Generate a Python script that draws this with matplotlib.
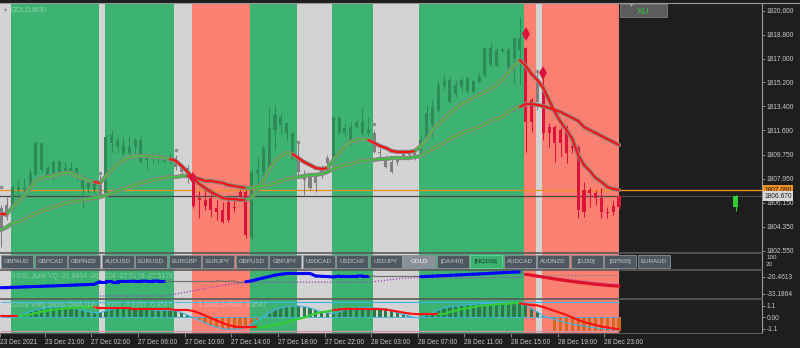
import matplotlib
matplotlib.use("Agg")
import matplotlib.pyplot as plt
from matplotlib.collections import LineCollection
from matplotlib.patches import Rectangle
import numpy as np

plt.rcParams['font.family'] = ['Liberation Sans', 'DejaVu Sans']

nan = float("nan")

# GOLD, M30 bars (23 Dec 2021 .. 28 Dec 23:30)
opens = [1804.1, 1805.1, 1805.85, 1807.35, 1807.1, 1807.35, 1808.25, 1810.65, 1808.75, 1808.4,
         1809.2, 1808.5, 1808.75, 1808.5, 1807.85, 1807.25, 1807.6, 1806.75, 1806.9, 1811.25,
         1810.35, 1810.5, 1809.9, 1810.35, 1810.9, 1809.4, 1809.6, 1809.45, 1809.6, 1809.4,
         1809.55, 1808.85, 1808.75, 1808.1, 1806.35, 1806.35, 1805.6, 1805.75, 1805.6, 1804.85,
         1805.85, 1806.6, 1806.95, 1803.6, 1808.4, 1808.45, 1808.6, 1811.6, 1812.6, 1812.15,
         1811.4, 1809.6, 1808.25, 1808.1, 1807.65, 1808.4, 1809.15, 1809.6, 1812.5, 1811.4,
         1811.85, 1811.85, 1812.25, 1811.4, 1811.4, 1809.95, 1809.35, 1808.45, 1809.2, 1809.6,
         1809.75, 1809.75, 1810.1, 1811.0, 1812.0, 1813.15, 1814.95, 1815.4, 1814.3, 1814.85,
         1815.45, 1814.5, 1815.25, 1815.75, 1817.8, 1816.45, 1817.6, 1817.65, 1817.05, 1817.65,
         1817.8, 1812.2, 1813.75, 1814.65, 1811.4, 1811.85, 1810.65, 1811.6, 1810.3, 1810.35,
         1805.45, 1807.1, 1806.9, 1806.5, 1805.45, 1805.45, 1805.85]
highs = [1806.0, 1806.6, 1807.5, 1807.85, 1808.0, 1808.75, 1810.8, 1810.75, 1809.0, 1809.35,
         1809.35, 1809.25, 1809.25, 1808.85, 1808.1, 1807.85, 1807.75, 1808.25, 1811.25, 1811.65,
         1811.1, 1811.1, 1811.1, 1811.0, 1811.1, 1809.6, 1809.75, 1809.9, 1809.75, 1809.9,
         1809.75, 1809.0, 1809.0, 1808.25, 1807.05, 1807.1, 1807.25, 1806.35, 1806.2, 1806.35,
         1806.35, 1807.1, 1807.25, 1808.6, 1809.6, 1810.5, 1813.35, 1813.5, 1812.9, 1812.25,
         1811.5, 1810.75, 1808.6, 1808.4, 1808.25, 1809.0, 1809.75, 1812.7, 1812.7, 1812.05,
         1812.25, 1812.4, 1813.3, 1812.55, 1811.65, 1810.3, 1809.75, 1809.52, 1809.6, 1810.1,
         1810.1, 1810.3, 1811.25, 1813.5, 1813.9, 1815.4, 1815.75, 1815.6, 1815.4, 1815.6,
         1815.7, 1815.4, 1815.9, 1817.85, 1818.25, 1817.85, 1817.85, 1817.85, 1818.6, 1820.1,
         1817.85, 1814.05, 1816.15, 1815.6, 1812.15, 1812.0, 1811.85, 1812.0, 1810.75, 1810.5,
         1807.7, 1807.35, 1807.1, 1807.25, 1805.85, 1806.35, 1806.75]
lows = [1802.8, 1804.85, 1805.75, 1806.35, 1807.0, 1807.1, 1808.15, 1808.45, 1808.1, 1807.85,
        1808.4, 1808.4, 1808.4, 1807.85, 1805.75, 1806.9, 1806.9, 1806.6, 1806.75, 1810.0,
        1809.9, 1809.75, 1809.75, 1809.6, 1809.15, 1808.6, 1809.15, 1809.15, 1809.15, 1809.15,
        1808.6, 1808.1, 1807.65, 1805.8, 1805.0, 1805.6, 1805.1, 1804.85, 1804.6, 1804.7,
        1805.45, 1806.35, 1803.5, 1803.35, 1807.1, 1807.65, 1808.45, 1810.15, 1811.35, 1810.85,
        1809.35, 1808.1, 1806.75, 1807.1, 1807.0, 1808.0, 1808.85, 1809.5, 1811.35, 1811.1,
        1810.5, 1811.8, 1811.25, 1811.25, 1809.9, 1809.5, 1808.75, 1808.4, 1809.0, 1809.52,
        1809.6, 1809.4, 1809.75, 1810.9, 1811.1, 1813.0, 1814.65, 1813.65, 1814.1, 1814.5,
        1814.4, 1814.4, 1815.15, 1815.6, 1816.35, 1816.35, 1817.5, 1816.15, 1815.15, 1815.0,
        1810.0, 1811.5, 1813.15, 1810.9, 1810.35, 1809.2, 1809.6, 1809.15, 1809.9, 1805.0,
        1805.05, 1805.85, 1806.0, 1805.0, 1805.0, 1805.2, 1805.7]
closes = [1805.8, 1806.0, 1807.35, 1807.1, 1807.3, 1808.4, 1810.65, 1808.6, 1808.25, 1809.2,
          1808.5, 1808.75, 1808.6, 1808.75, 1807.25, 1807.7, 1807.1, 1807.5, 1811.1, 1810.65,
          1810.9, 1809.9, 1810.35, 1810.9, 1809.2, 1809.55, 1809.45, 1809.6, 1809.3, 1809.55,
          1808.85, 1808.45, 1808.1, 1805.95, 1806.5, 1805.95, 1806.5, 1805.45, 1804.7, 1806.2,
          1805.75, 1806.95, 1803.7, 1808.45, 1808.6, 1810.3, 1811.8, 1812.75, 1812.0, 1811.4,
          1809.95, 1808.45, 1807.85, 1807.25, 1808.1, 1808.85, 1809.55, 1812.6, 1811.45, 1811.8,
          1810.65, 1812.25, 1811.4, 1811.65, 1809.95, 1809.9, 1808.85, 1809.2, 1809.35, 1809.95,
          1809.95, 1810.1, 1810.9, 1812.9, 1813.35, 1815.0, 1815.3, 1813.75, 1815.0, 1815.4,
          1814.5, 1815.3, 1815.6, 1817.8, 1816.5, 1817.65, 1817.7, 1816.35, 1818.55, 1818.55,
          1812.2, 1813.9, 1815.25, 1811.4, 1811.85, 1810.65, 1811.6, 1809.9, 1810.45, 1805.6,
          1807.1, 1806.9, 1806.5, 1805.45, 1805.35, 1805.95, 1806.67]

# trend zones behind the chart: (state, number of bars)
zone_runs = [("gray", 2), ("green", 15), ("gray", 1), ("green", 12), ("gray", 3), ("red", 10),
             ("green", 8), ("gray", 6), ("green", 7), ("gray", 8), ("green", 18), ("red", 2),
             ("gray", 1), ("red", 14)]

# two smoothed averages on price
ma_fast = [1805.31, 1805.31, 1805.84, 1806.29, 1806.67, 1807.27, 1807.80, 1808.02, 1808.10, 1808.17,
           1808.32, 1808.40, 1808.40, 1808.17, 1808.02, 1807.80, 1807.72, 1807.65, 1808.17, 1808.62,
           1809.07, 1809.37, 1809.60, 1809.67, 1809.67, 1809.67, 1809.60, 1809.60, 1809.52, 1809.45,
           1809.30, 1808.92, 1808.47, 1808.02, 1807.57, 1807.27, 1806.97, 1806.74, 1806.52, 1806.44,
           1806.44, 1806.37, 1806.37, 1806.52, 1807.12, 1807.87, 1808.62, 1809.30, 1809.67, 1809.90,
           1809.83, 1809.52, 1809.22, 1809.00, 1808.77, 1808.70, 1808.77, 1809.37, 1809.90, 1810.43,
           1810.73, 1810.88, 1810.95, 1810.88, 1810.65, 1810.43, 1810.28, 1810.05, 1809.98, 1809.98,
           1809.98, 1810.05, 1810.43, 1810.88, 1811.63, 1812.08, 1812.46, 1812.91, 1813.28, 1813.58,
           1813.81, 1814.04, 1814.26, 1814.49, 1814.71, 1815.01, 1815.39, 1815.92, 1816.44, 1816.89,
           1816.44, 1815.84, 1815.39, 1814.79, 1813.89, 1812.98, 1812.23, 1811.63, 1810.95, 1809.75,
           1809.00, 1808.55, 1808.02, 1807.72, 1807.35, 1807.20, 1807.12]
ma_slow = [1804.11, 1804.33, 1804.63, 1804.71, 1804.93, 1805.16, 1805.38, 1805.54, 1805.69, 1805.84,
           1805.99, 1806.14, 1806.22, 1806.29, 1806.37, 1806.44, 1806.52, 1806.59, 1806.74, 1806.89,
           1807.04, 1807.19, 1807.34, 1807.49, 1807.65, 1807.72, 1807.87, 1807.95, 1808.02, 1808.10,
           1808.10, 1808.17, 1808.17, 1808.10, 1807.95, 1807.80, 1807.80, 1807.72, 1807.65, 1807.49,
           1807.42, 1807.34, 1807.27, 1807.27, 1807.34, 1807.42, 1807.49, 1807.65, 1807.80, 1807.95,
           1808.02, 1808.10, 1808.17, 1808.25, 1808.25, 1808.32, 1808.47, 1808.70, 1808.85, 1809.00,
           1809.07, 1809.22, 1809.30, 1809.37, 1809.37, 1809.45, 1809.45, 1809.52, 1809.52, 1809.52,
           1809.52, 1809.60, 1809.67, 1809.97, 1810.20, 1810.43, 1810.65, 1810.95, 1811.18, 1811.40,
           1811.55, 1811.70, 1811.85, 1812.08, 1812.31, 1812.46, 1812.61, 1812.98, 1813.21, 1813.36,
           1813.58, 1813.58, 1813.51, 1813.43, 1813.28, 1813.13, 1812.98, 1812.76, 1812.53, 1812.31,
           1811.85, 1811.63, 1811.40, 1811.18, 1810.95, 1810.73, 1810.50]
fast_down = [(0, 1), (16, 17), (29, 42), (50, 56), (63, 71), (89, 106)]
slow_down = [(32, 42), (89, 106)]

sell_x = [90, 93]
sell_y = [1818.85, 1815.9]
flip_x = [33]
flip_y = [1808.0]
dot_x = [0, 17, 30, 51, 64, 92]
dot_y = [1807.37, 1808.4, 1810.13, 1810.73, 1812.08, 1816.07]
ghost_x = 126
ghost_ohlc = (1806.67, 1806.75, 1805.56, 1805.84)
ask_price = 1807.09
bid_price = 1806.67
price_ticks = [1820.6, 1818.8, 1817.0, 1815.2, 1813.4, 1811.6, 1809.75, 1807.95, 1806.15, 1804.35, 1802.55]

# DSL Jurik VQ
dsl_val = [-28.6, -28.5, -28.3, -28.2, -28.0, -27.9, -27.7, -27.6, -27.4, -27.3,
           -27.1, -27.0, -26.8, -26.6, -26.5, -26.3, -26.1, -24.2, -24.2, -24.1,
           -24.1, -24.0, -24.0, -23.9, -23.9, -23.8, -23.8, -23.7, -23.7, -23.7,
           -23.7, -23.7, -23.7, -23.7, -23.7, -23.7, -23.7, -23.7, -23.8, -23.8,
           -23.9, -25.0, -24.3, -23.6, -22.5, -21.5, -20.5, -19.5, -18.8, -18.3,
           -18.2, -18.2, -18.2, -18.3, -20.1, -20.3, -20.5, -20.8, -20.1, -20.1,
           -20.1, -20.1, -20.0, -20.0, -20.2, -20.2, -20.2, -20.2, -20.2, -20.2,
           -20.2, -20.2, -20.6, -20.4, -20.2, -20.0, -19.8, -19.6, -19.4, -19.2,
           -19.0, -18.8, -18.6, -18.4, -18.1, -17.9, -17.7, -17.5, -17.3, -17.2,
           -18.9, -19.5, -20.2, -20.9, -21.6, -22.3, -22.9, -23.5, -24.1, -24.6,
           -25.1, -25.6, -26.1, -26.5, -26.9, -27.2, -27.5]
dsl_upper = [nan, nan, nan, nan, nan, nan, nan, nan, nan, nan,
             nan, nan, nan, nan, nan, nan, nan, -23.7, -23.7, -23.7,
             -23.7, -23.7, -23.7, -23.7, -23.7, -23.7, -23.7, -23.7, -23.7, -23.7,
             -23.7, -23.7, -23.7, -23.7, -23.7, -23.7, -23.7, -23.7, -23.7, -23.7,
             -23.7, -23.7, nan, nan, nan, nan, nan, nan, nan, nan,
             nan, nan, nan, nan, nan, nan, nan, nan, nan, nan,
             nan, nan, nan, nan, -20.1, -20.1, -20.1, -20.1, -20.1, -20.1,
             -20.1, -20.1, nan, nan, nan, nan, nan, nan, nan, nan,
             nan, nan, nan, nan, nan, nan, nan, nan, nan, nan,
             -19.6, -19.6, -19.6, -19.6, -19.6, -19.6, -19.6, -19.6, -19.6, -19.6,
             -19.6, -19.6, -19.6, -19.6, -19.6, -19.6, -19.6]
dsl_lower = [-29.3, -29.3, -29.3, -29.3, nan, nan, nan, nan, nan, nan,
             nan, nan, nan, nan, nan, nan, nan, -34.6, -34.6, -34.6,
             -34.6, -34.6, -34.6, -34.6, -34.6, -34.6, -34.6, -34.6, -34.6, -34.0,
             -33.2, -32.4, -31.6, -30.8, -30.0, -29.2, -28.4, -27.6, -26.9, -26.2,
             -25.6, -25.0, -24.6, -24.6, -24.6, -24.6, -24.6, -24.6, -24.6, -24.6,
             -24.6, -24.6, -24.6, -24.6, -24.6, -24.6, -24.6, -24.6, -24.6, -24.6,
             -24.6, -24.6, -24.6, -24.6, -24.2, -23.7, -23.2, -22.7, -22.2, -21.8,
             -21.5, -21.3, -21.3, -21.3, -21.3, -21.3, -21.3, -21.3, -21.3, -21.3,
             -21.3, -21.3, -21.3, -21.3, -21.3, -21.3, -21.3, -21.3, -21.3, -21.3,
             -18.9, -19.3, -19.8, -20.3, -20.8, -21.3, -21.8, -22.3, -22.8, -23.3,
             -23.8, -24.3, -24.7, -25.1, -25.5, -25.8, -26.1]
dsl_up_runs = [(0, 28), (42, 63), (72, 89)]
dsl_dn_runs = [(90, 106)]

# Jurik volty bands OMA (14)
jv_band = [0.12, 0.06, 0.12, 0.19, 0.34, 0.53, 0.69, 0.81, 0.91, 0.97,
           1.00, 0.97, 0.91, 0.81, 0.66, 0.53, 0.43, 0.43, 0.60, 0.76,
           0.85, 0.88, 0.88, 0.85, 0.81, 0.76, 0.69, 0.66, 0.66, 0.66,
           0.60, 0.43, 0.19, -0.04, -0.28, -0.51, -0.76, -0.94, -1.08, -1.13,
           -1.13, -1.08, -0.92, -0.66, -0.28, 0.06, 0.43, 0.69, 0.91, 1.00,
           1.07, 1.07, 1.00, 0.88, 0.69, 0.50, 0.41, 0.36, 0.50, 0.69,
           0.83, 0.88, 0.91, 0.91, 0.88, 0.83, 0.78, 0.59, 0.43, 0.26,
           0.12, -0.02, -0.04, 0.22, 0.43, 0.69, 0.88, 1.00, 1.07, 1.13,
           1.19, 1.22, 1.26, 1.29, 1.30, 1.32, 1.32, 1.32, 1.32, 1.30,
           1.16, 0.81, 0.50, 0.12, -0.04, -0.21, -0.35, -0.51, -0.63, -0.73,
           -0.82, -0.92, -0.99, -1.08, -1.12, -1.16, -1.20]
jv_hist = [0.12, 0.06, 0.12, 0.19, 0.34, 0.53, 0.69, 0.81, 0.91, 0.97,
           1.00, 0.97, 0.91, 0.81, 0.66, 0.53, 0.43, 0.43, 0.60, 0.76,
           0.85, 0.88, 0.88, 0.85, 0.81, 0.76, 0.69, 0.66, 0.66, 0.66,
           0.60, 0.43, 0.19, -0.04, -0.28, -0.51, -0.76, -0.94, -1.08, -1.13,
           -1.13, -1.08, -0.92, -0.66, -0.28, 0.06, 0.43, 0.69, 0.91, 1.00,
           1.07, 1.07, 1.00, 0.88, 0.69, 0.50, 0.41, 0.36, 0.50, 0.69,
           0.83, 0.88, 0.91, 0.91, 0.88, 0.83, 0.78, 0.59, 0.43, 0.26,
           0.12, -0.02, -0.04, 0.22, 0.43, 0.69, 0.88, 1.00, 1.07, 1.13,
           1.19, 1.22, 1.26, 1.29, 1.30, 1.32, 1.32, 1.32, 1.32, 1.30,
           1.16, 0.81, 0.50, 0.12, -0.04, -1.28, -1.28, -1.28, -1.28, -1.28,
           -1.28, -1.28, -1.28, -1.28, -1.28, -1.28, -1.28]
jv_signal = [0.12, 0.12, 0.12, 0.12, 0.17, 0.26, 0.41, 0.55, 0.64, 0.74,
             0.78, 0.85, 0.88, 0.91, 0.94, 0.97, 0.97, 0.85, 0.85, 0.85,
             0.85, 0.85, 0.85, 0.76, 0.76, 0.76, 0.76, 0.76, 0.76, 0.76,
             0.69, 0.69, 0.69, 0.59, 0.40, 0.17, -0.07, -0.30, -0.54, -0.73,
             -0.87, -0.92, -0.94, -0.94, -0.94, -0.92, -0.82, -0.73, -0.59, -0.44,
             -0.30, -0.16, -0.02, 0.17, 0.36, 0.50, 0.55, 0.69, 0.74, 0.78,
             0.81, 0.81, 0.78, 0.78, 0.76, 0.76, 0.74, 0.64, 0.55, 0.45,
             0.36, 0.31, 0.28, 0.28, 0.28, 0.28, 0.31, 0.50, 0.64, 0.78,
             0.88, 0.97, 1.07, 1.13, 1.18, 1.23, 1.26, 1.29, 1.32, 1.32,
             1.23, 1.16, 1.12, 0.97, 0.78, 0.59, 0.41, 0.22, -0.02, -0.25,
             -0.44, -0.59, -0.73, -0.87, -0.96, -1.06, -1.13]
signal_down = [(0, 3), (16, 44), (57, 75), (89, 106)]
jv_level_hi = 1.45
jv_level_lo = -1.3

time_pos = [-0.1, 7.5, 15.5, 23.5, 31.5, 39.5, 47.5, 55.5, 63.5, 71.5, 79.5, 87.5, 95.5, 103.5]
time_labels = ["23 Dec 2021", "23 Dec 21:00", "27 Dec 02:00", "27 Dec 06:00", "27 Dec 10:00",
               "27 Dec 14:00", "27 Dec 18:00", "27 Dec 22:00", "28 Dec 03:00", "28 Dec 07:00",
               "28 Dec 11:00", "28 Dec 15:00", "28 Dec 19:00", "28 Dec 23:00"]
buttons = ["GBPAUD", "GBPCAD", "GBPNZD", "AUDUSD", "EURUSD", "EURGBP", "EURJPY", "GBPUSD",
           "GBPJPY", "USDCAD", "USDCHF", "USDJPY", "GOLD", "[DAX40]", "[NQ100]", "AUDCAD",
           "AUDNZD", "[DJ30]", "[SP500]", "EURAUD"]

BG = "#1e1e1e"
TXT = "#c8c8c8"
ZONE_BG = {"green": "#3cb371", "red": "#fa8072", "gray": "#d3d3d3"}
CANDLE = {"green": "#2e8b57", "red": "#dc143c", "gray": "#7f7f7f"}

n = len(closes)
idx = np.arange(n)
zones = []
for name, length in zone_runs:
    zones += [name] * length

W, H = 800, 348
fig = plt.figure(figsize=(W / 100, H / 100), dpi=100, facecolor=BG)


def paint_zones(a):
    start = 0
    for name, length in zone_runs:
        end = start + length
        right = end - 0.24 if end < n else n - 1
        a.axvspan(start - 0.24, right, color=ZONE_BG[name], lw=0, zorder=0)
        start = end


def panel(top, bottom):
    a = fig.add_axes([0, 1 - bottom / H, 762 / W, (bottom - top) / H])
    a.set_facecolor(BG)
    a.set_xlim(-0.17, 130.53)
    for s in a.spines.values():
        s.set_visible(False)
    a.spines['right'].set_visible(True)
    a.spines['right'].set_color('#9a9a9a')
    a.spines['right'].set_linewidth(0.8)
    a.tick_params(axis='x', bottom=False, labelbottom=False)
    a.yaxis.tick_right()
    a.tick_params(axis='y', direction='out', length=2.5, width=0.6, colors='#9a9a9a',
                  labelcolor=TXT, labelsize=4.8, pad=1)
    paint_zones(a)
    return a


def draw_runs(a, y, runs, default, z):
    colours = [default[0]] * (n - 1)
    widths = [default[1]] * (n - 1)
    for s, e, c, w in runs:
        for k in range(s, e):
            colours[k] = c
            widths[k] = w
    pts = np.column_stack([idx, y])
    segs = np.stack([pts[:-1], pts[1:]], axis=1)
    a.add_collection(LineCollection(segs, colors=colours, linewidths=widths,
                                    zorder=z, capstyle='round'))


ax = panel(4, 253)
ax_btn = panel(253, 269.5)
ax_dsl = panel(269.5, 298.5)
ax_jv = panel(298.5, 333)

for a in (ax_btn, ax_dsl, ax_jv):
    a.spines['top'].set_visible(True)
    a.spines['top'].set_color('#5a5a5a')
    a.spines['top'].set_linewidth(1.2)
ax_jv.spines['bottom'].set_visible(True)
ax_jv.spines['bottom'].set_color('#5a5a5a')

# ---- price panel ----
ax.set_ylim(1802.38, 1821.10)
ax.set_yticks(price_ticks)
ax.set_yticklabels([f"{p:.3f}" for p in price_ticks])
ax.axhline(ask_price, color='#f0901e', lw=0.9, zorder=1)
ax.axhline(bid_price, color='#4a4a4a', lw=0.9, zorder=1)

ccol = [CANDLE[z] for z in zones]
body_lo = np.minimum(opens, closes)
body_h = np.maximum(np.abs(np.subtract(closes, opens)), 0.06)
ax.vlines(idx, lows, highs, colors=ccol, lw=0.75, zorder=2)
ax.bar(idx, body_h, bottom=body_lo, width=0.52, color=ccol, lw=0, zorder=2)

go, gh, gl, gc = ghost_ohlc
ax.vlines(ghost_x, gl, gh, colors='#32cd32', lw=0.8, zorder=2)
ax.bar(ghost_x, go - gc, bottom=gc, width=0.8, color='#32cd32', lw=0, zorder=2)

for line, down in ((ma_slow, slow_down), (ma_fast, fast_down)):
    ax.plot(idx, line, color='#858585', lw=3.0, solid_capstyle='round', zorder=3)
    draw_runs(ax, line, [(s, e, '#ff1010', 1.5) for s, e in down], ('#32cd32', 1.1), 3.1)

ax.plot(sell_x, sell_y, 'd', color='#dc143c', ms=7.5, mew=0, zorder=4)
ax.plot(flip_x, flip_y, 'd', color='#dc143c', ms=6, mew=0, zorder=4)
ax.plot(dot_x, dot_y, 'o', color='#8c8c8c', ms=2.6, mew=0, zorder=4)

ytr = ax.get_yaxis_transform()
ax.text(1.003, ask_price, f"{ask_price:.3f}", transform=ytr, ha='left', va='center',
        fontsize=4.8, color='#1e1e1e', clip_on=False, zorder=6,
        bbox=dict(boxstyle='square,pad=0.25', fc='#f0901e', ec='none'))
ax.text(1.003, bid_price - 0.02, f"{bid_price:.3f}", transform=ytr, ha='left', va='center',
        fontsize=4.8, color='#1e1e1e', clip_on=False, zorder=6,
        bbox=dict(boxstyle='square,pad=0.25', fc='#d8d8d8', ec='none'))

# ---- symbol buttons strip ----
ax_btn.set_ylim(0, 120)
ax_btn.set_yticks([])

# ---- DSL Jurik VQ ----
ax_dsl.set_ylim(-36.46, -15.37)
ax_dsl.set_yticks([-20.4613, -33.1864])
ax_dsl.set_yticklabels(["-20.4613", "-33.1864"])
ax_dsl.plot(idx, dsl_lower, color='#a040c0', lw=0.9, ls=(0, (1, 1.4)), zorder=2)
ax_dsl.plot(idx, dsl_upper, color='#8a8a8a', lw=0.8, ls=(0, (2, 1.6)), zorder=2)
dsl_runs = [(s, e, '#0000ff', 2.2) for s, e in dsl_up_runs] + \
           [(s, e, '#e0102a', 2.2) for s, e in dsl_dn_runs]
draw_runs(ax_dsl, dsl_val, dsl_runs, ('#6e6e6e', 0.8), 3)

# ---- Jurik volty bands ----
ax_jv.set_ylim(-1.48, 1.775)
ax_jv.set_yticks([1.1, 0.0, -1.1])
ax_jv.set_yticklabels(["1.1", "0.00", "-1.1"])
hcol = ['#2b7a4b' if v > 0 else '#d2691e' for v in jv_hist]
ax_jv.bar(idx, jv_hist, width=0.55, color=hcol, lw=0, zorder=1)
ax_jv.hlines(jv_level_hi, 0, n - 1, color='#3bb4e6', lw=0.8, zorder=2)
ax_jv.hlines(jv_level_lo, 0, n - 1, color='#d890b0', lw=0.8, zorder=2)
ax_jv.hlines(0, 0, n - 1, color='#3bb4e6', lw=0.6, zorder=2)
ax_jv.plot(idx, jv_band, color='#3bb4e6', lw=0.8, zorder=2)
draw_runs(ax_jv, jv_signal, [(s, e, '#ff1010', 1.5) for s, e in signal_down], ('#32cd32', 1.5), 3)

ax_jv.tick_params(axis='x', bottom=True, labelbottom=True, direction='out', length=3,
                  width=0.6, colors='#9a9a9a', labelcolor=TXT, labelsize=4.8, pad=1.5)
ax_jv.set_xticks(time_pos)
ax_jv.set_xticklabels(time_labels, ha='left')

# ---- overlay in pixel coordinates: terminal decorations ----
deco = fig.add_axes([0, 0, 1, 1], zorder=5)
deco.set_xlim(0, W)
deco.set_ylim(H, 0)
deco.axis('off')
deco.patch.set_alpha(0)

deco.plot([0, W], [2.5, 2.5], color='#9a9a9a', lw=0.8)
deco.plot([4.5], [9.5], 'v', color='#909090', ms=2.5, mew=0)
deco.text(11, 9.8, "GOLD,M30", fontsize=5, color='#e8e8e8', alpha=0.55, va='center')
deco.text(2, 276.5, "M30 DSL Jurik VQ -21.9414 -26.5224 -27.5178 -27.5178",
          fontsize=4.9, color='#e0e0e0', alpha=0.5, va='center')
deco.text(2, 305.5, "M30Jurik volty bands OMA (14) -0.9391 -0.9391 -0.8547 1.0000 -1.0000 0.0000 -0.8547",
          fontsize=4.9, color='#e0e0e0', alpha=0.5, va='center')

deco.add_patch(Rectangle((620, 4), 47, 13, fc='#5c5c5c', ec='#7a7a7a', lw=0.6))
deco.plot([631], [5], 'v', color='#a0a0a0', ms=2.5, mew=0)
deco.text(643.5, 11, "XU", fontsize=6.5, color='#2ecc40', ha='center', va='center')

for k, name in enumerate(buttons):
    x0 = 1 + k * 33.5
    fc, tc, ec = '#4f5861', TXT, '#8a9099'
    if name == "GOLD":
        fc, tc = '#8a9099', 'white'
    if name == "[NQ100]":
        fc, tc, ec = '#3cb371', '#1a3324', '#6fd69a'
    deco.add_patch(Rectangle((x0, 255), 32, 13, fc=fc, ec=ec, lw=0.6))
    deco.text(x0 + 16, 261.8, name, fontsize=4.4, color=tc, ha='center', va='center')

deco.text(766, 257.5, "100", fontsize=4.5, color=TXT, va='center')
deco.text(766, 264, "20", fontsize=4.5, color=TXT, va='center')

fig.savefig("out.png", dpi=100, facecolor=BG)
